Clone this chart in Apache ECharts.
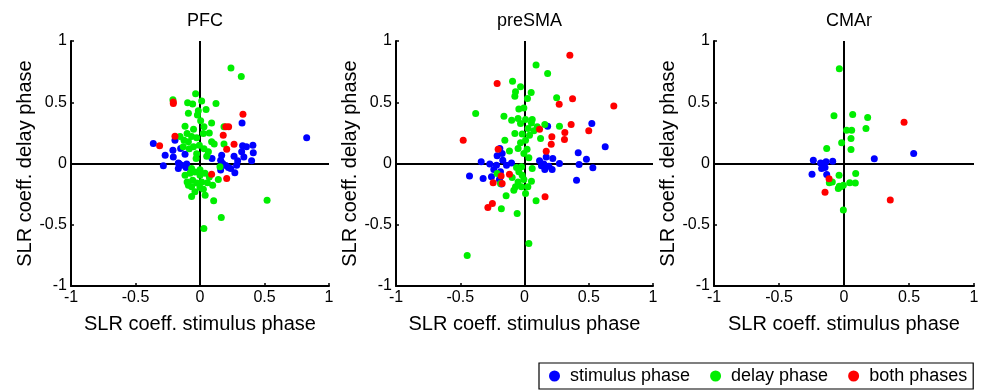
<!DOCTYPE html>
<html>
<head>
<meta charset="utf-8">
<script src="https://cdn.jsdelivr.net/npm/echarts@6/dist/echarts.min.js"></script>
<style>
html,body{margin:0;padding:0;background:#fff;}
#chart{width:986px;height:392px;}
</style>
</head>
<body>
<div id="chart"></div>
<script>
const panelTitles = ['PFC', 'preSMA', 'CMAr'];
const seriesNames = ['stimulus phase', 'delay phase', 'both phases'];
const axisTicks = [-1, -0.5, 0, 0.5, 1];
const xAxisName = 'SLR coeff. stimulus phase';
const yAxisName = 'SLR coeff. delay phase';

// PFC
const pfcStimulus = [[-0.362,0.163],[0.827,0.21],[0.326,0.33],[0.41,0.15],[0.36,0.136],[0.33,0.144],[0.323,0.095],[0.34,0.054],[0.413,0.087],[0.40,0.022],[0.292,0.022],[0.264,0.06],[0.168,0.068],[0.16,0.027],[0.093,0.04],[0.176,0],[0.2,-0.016],[0.22,-0.033],[0.238,-0.04],[0.27,-0.076],[0.284,-0.014],[0.16,-0.054],[-0.194,0.19],[-0.21,0.109],[-0.15,0.122],[-0.116,0.076],[-0.27,0.068],[-0.207,0.054],[-0.284,-0.019],[-0.168,0.005],[-0.142,-0.014],[-0.103,-0.005],[-0.108,-0.033],[-0.168,-0.041],[-0.163,0]];
const pfcDelay = [[0.24,0.78],[0.32,0.71],[0.52,-0.30],[0.165,-0.44],[0.03,-0.53],[0.106,-0.305],[0.04,-0.26],[-0.065,-0.27],[-0.034,0.57],[0.013,0.51],[-0.21,0.52],[-0.096,0.495],[-0.057,0.485],[0.124,0.49],[0.047,0.44],[-0.013,0.43],[-0.09,0.41],[-0.02,0.395],[0.005,0.35],[0.09,0.33],[-0.116,0.305],[0.031,0.30],[0.186,0.30],[-0.05,0.28],[0.072,0.25],[-0.10,0.245],[0.026,0.245],[-0.065,0.22],[-0.155,0.22],[-0.026,0.21],[-0.124,0.19],[-0.09,0.177],[0.09,0.177],[0.11,0.16],[0.186,0.16],[-0.005,0.15],[-0.05,0.136],[-0.13,0.136],[-0.083,0.12],[0.031,0.12],[0.065,0.095],[-0.026,0.08],[0.052,0.06],[-0.03,0.04],[0.155,-0.027],[0,-0.05],[-0.065,-0.04],[-0.116,-0.095],[-0.078,-0.08],[-0.04,-0.07],[0,-0.095],[0.039,-0.08],[0.072,-0.11],[0.142,-0.13],[-0.10,-0.15],[-0.057,-0.136],[-0.026,-0.16],[0.013,-0.15],[0.057,-0.158],[0.098,-0.177],[-0.09,-0.177],[-0.065,-0.19],[0,-0.196],[0.026,-0.21],[-0.039,-0.23]];
const pfcBoth = [[-0.207,0.503],[-0.207,0.49],[0.333,0.403],[0.2,0.30],[0.222,0.30],[0.18,0.23],[-0.194,0.223],[-0.313,0.144],[0.207,0.117],[0.264,0.158],[0.09,-0.087],[0.207,-0.122]];

// preSMA
const presmaStimulus = [[-0.192,0.122],[-0.213,0.063],[-0.174,0.082],[-0.337,0.014],[-0.27,-0.005],[-0.239,-0.049],[-0.218,-0.014],[-0.169,0.027],[-0.14,-0.014],[-0.101,0.005],[-0.428,-0.103],[-0.322,-0.122],[-0.257,-0.109],[-0.187,-0.068],[-0.195,-0.13],[-0.18,-0.168],[0.18,0.305],[0.524,0.327],[0.628,0.136],[0.418,0.087],[0.482,0.035],[0.425,-0.008],[0.532,-0.035],[0.405,-0.136],[0.117,0.022],[0.169,0.054],[0.22,0.04],[0.15,-0.005],[0.19,-0.022],[0.215,-0.049],[0.158,-0.049],[0.272,0],[0.132,-0.019]];
const presmaDelay = [[0.09,0.805],[0.18,0.735],[-0.093,0.672],[-0.031,0.626],[-0.07,0.585],[-0.075,0.55],[0.052,0.58],[0.023,0.53],[0.25,0.536],[-0.38,0.408],[-0.044,0.444],[-0.005,0.454],[-0.16,0.386],[-0.10,0.354],[-0.05,0.367],[-0.031,0.327],[0.008,0.36],[0.06,0.36],[0.054,0.33],[0.158,0.318],[0.272,0.305],[0.099,0.30],[0.028,0.286],[0.073,0.267],[-0.075,0.245],[-0.018,0.24],[0.039,0.23],[0.125,0.204],[-0.153,0.19],[0.008,0.19],[-0.031,0.17],[-0.05,0.122],[-0.117,0.103],[0.02,0.117],[0.034,0.046],[-0.005,0.082],[-0.062,-0.033],[-0.023,-0.027],[-0.213,-0.082],[-0.044,-0.068],[-0.018,-0.095],[-0.096,-0.114],[-0.005,-0.13],[-0.05,-0.15],[0.054,-0.144],[-0.07,-0.19],[-0.023,-0.19],[0.026,-0.19],[-0.083,-0.218],[0.008,-0.245],[-0.143,-0.264],[0.09,-0.305],[-0.18,-0.37],[-0.057,-0.408],[0.034,-0.653],[-0.446,-0.75],[-0.187,-0.163],[0.06,-0.04]];
const presmaBoth = [[0.353,0.884],[-0.213,0.653],[0.374,0.528],[0.27,0.484],[0.695,0.47],[0.363,0.318],[0.50,0.267],[0.314,0.253],[0.311,0.196],[0.213,0.218],[0.208,0.158],[0.169,0.10],[0.117,0.28],[-0.477,0.19],[-0.205,0.117],[-0.117,-0.087],[-0.182,-0.103],[-0.244,-0.158],[-0.174,-0.163],[-0.25,-0.327],[-0.285,-0.36],[0.16,-0.272]];

// CMAr
const cmarStimulus = [[-0.236,0.027],[-0.246,-0.087],[-0.18,0.005],[-0.138,0.014],[-0.087,0.019],[-0.164,-0.027],[-0.146,-0.033],[-0.172,-0.041],[-0.133,-0.09],[0.233,0.038],[0.536,0.082],[-0.159,0]];
const cmarDelay = [[-0.036,0.773],[-0.077,0.389],[0.067,0.40],[0.182,0.375],[0.169,0.286],[0.02,0.272],[0.059,0.272],[0.054,0.204],[-0.018,0.169],[-0.133,0.122],[0.054,0.114],[-0.038,-0.095],[0.09,-0.082],[-0.09,-0.15],[-0.113,-0.158],[0.044,-0.158],[0.087,-0.16],[-0.005,-0.177],[-0.026,-0.19],[-0.044,-0.204],[-0.005,-0.38],[-0.036,-0.185]];
const cmarBoth = [[0.462,0.337],[0.356,-0.297],[-0.115,-0.125],[-0.146,-0.234]];

const panelData = [
  [pfcStimulus, pfcDelay, pfcBoth],
  [presmaStimulus, presmaDelay, presmaBoth],
  [cmarStimulus, cmarDelay, cmarBoth]
];
const colors = ['#0000ff', '#00ee00', '#ff0000'];

const gridLefts = [71, 396, 714];
const gridWidths = [258, 257, 260];
const FONT = 'Liberation Sans, Arial, sans-serif';

const grids = [], xAxes = [], yAxes = [], titles = [], series = [];
for (let i = 0; i < 3; i++) {
  grids.push({left: gridLefts[i], top: 41, width: gridWidths[i], height: 245, containLabel: false});
  titles.push({
    text: panelTitles[i], left: gridLefts[i] + gridWidths[i] / 2, top: 7, textAlign: 'center',
    textStyle: {fontFamily: FONT, fontSize: 18, fontWeight: 'normal', color: '#000'}
  });
  const axisCommon = {
    min: axisTicks[0], max: axisTicks[axisTicks.length - 1], interval: 0.5,
    splitLine: {show: false},
    axisLine: {show: true, onZero: false, lineStyle: {color: '#000', width: 2}},
    axisTick: {show: true, inside: true, length: 3, lineStyle: {color: '#000', width: 1.5}},
    axisLabel: {color: '#000', fontFamily: FONT, fontSize: 16, formatter: v => String(v)},
    nameLocation: 'middle',
    nameTextStyle: {color: '#000', fontFamily: FONT, fontSize: 20}
  };
  xAxes.push(Object.assign({}, axisCommon, {
    type: 'value', gridIndex: i, position: 'bottom', name: xAxisName, nameGap: 28,
    axisLabel: Object.assign({}, axisCommon.axisLabel, {margin: 4})
  }));
  yAxes.push(Object.assign({}, axisCommon, {
    type: 'value', gridIndex: i, position: 'left', name: yAxisName, nameGap: 32,
    axisLabel: Object.assign({}, axisCommon.axisLabel, {margin: 4})
  }));
  for (let s = 0; s < 3; s++) {
    const ser = {
      type: 'scatter', name: seriesNames[s], xAxisIndex: i, yAxisIndex: i,
      data: panelData[i][s], symbol: 'circle', symbolSize: 7,
      itemStyle: {color: colors[s], opacity: 1}, z: 3 + s
    };
    if (s === 0) {
      ser.markLine = {
        silent: true, symbol: 'none', animation: false, label: {show: false},
        lineStyle: {color: '#000', width: 2, type: 'solid'},
        data: [{xAxis: 0}, {yAxis: 0}], z: 1
      };
    }
    series.push(ser);
  }
}

const chart = echarts.init(document.getElementById('chart'), null, {renderer: 'canvas'});
chart.setOption({
  animation: false,
  color: colors,
  title: titles,
  grid: grids,
  xAxis: xAxes,
  yAxis: yAxes,
  legend: {
    data: seriesNames, left: 539, top: 363,
    orient: 'horizontal', icon: 'circle', itemWidth: 11, itemHeight: 11, itemGap: 20,
    padding: [4, 6, 4, 10],
    borderColor: '#000', borderWidth: 1.2,
    textStyle: {color: '#000', fontFamily: FONT, fontSize: 18, padding: [0, 0, 0, 5]}
  },
  series: series
});
</script>
</body>
</html>
